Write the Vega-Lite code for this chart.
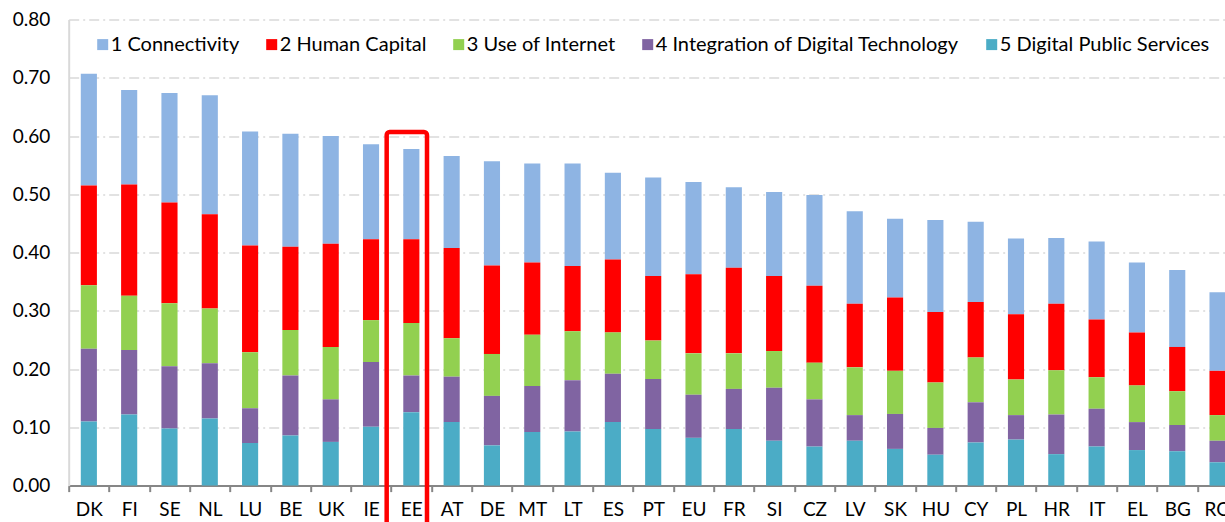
{
  "$schema": "https://vega.github.io/schema/vega-lite/v6.json",
  "width": 1156.3,
  "height": 466,
  "autosize": {"type": "none"},
  "padding": {"left": 68.7, "top": 19.6, "right": 0, "bottom": 36.4},
  "background": "white",
  "config": {"view": {"stroke": null}, "font": "Lato"},
  "layer": [
    {
      "data": {
        "values": [
          {"country": "DK", "1 Connectivity": 0.192, "2 Human Capital": 0.171, "3 Use of Internet": 0.109, "4 Integration of Digital Technology": 0.125, "5 Digital Public Services": 0.110},
          {"country": "FI", "1 Connectivity": 0.162, "2 Human Capital": 0.191, "3 Use of Internet": 0.093, "4 Integration of Digital Technology": 0.111, "5 Digital Public Services": 0.122},
          {"country": "SE", "1 Connectivity": 0.188, "2 Human Capital": 0.173, "3 Use of Internet": 0.108, "4 Integration of Digital Technology": 0.107, "5 Digital Public Services": 0.098},
          {"country": "NL", "1 Connectivity": 0.204, "2 Human Capital": 0.162, "3 Use of Internet": 0.094, "4 Integration of Digital Technology": 0.095, "5 Digital Public Services": 0.115},
          {"country": "LU", "1 Connectivity": 0.196, "2 Human Capital": 0.183, "3 Use of Internet": 0.096, "4 Integration of Digital Technology": 0.060, "5 Digital Public Services": 0.073},
          {"country": "BE", "1 Connectivity": 0.194, "2 Human Capital": 0.143, "3 Use of Internet": 0.078, "4 Integration of Digital Technology": 0.103, "5 Digital Public Services": 0.086},
          {"country": "UK", "1 Connectivity": 0.185, "2 Human Capital": 0.177, "3 Use of Internet": 0.090, "4 Integration of Digital Technology": 0.073, "5 Digital Public Services": 0.075},
          {"country": "IE", "1 Connectivity": 0.163, "2 Human Capital": 0.139, "3 Use of Internet": 0.072, "4 Integration of Digital Technology": 0.111, "5 Digital Public Services": 0.101},
          {"country": "EE", "1 Connectivity": 0.155, "2 Human Capital": 0.144, "3 Use of Internet": 0.090, "4 Integration of Digital Technology": 0.063, "5 Digital Public Services": 0.126},
          {"country": "AT", "1 Connectivity": 0.158, "2 Human Capital": 0.155, "3 Use of Internet": 0.066, "4 Integration of Digital Technology": 0.078, "5 Digital Public Services": 0.109},
          {"country": "DE", "1 Connectivity": 0.179, "2 Human Capital": 0.152, "3 Use of Internet": 0.072, "4 Integration of Digital Technology": 0.085, "5 Digital Public Services": 0.069},
          {"country": "MT", "1 Connectivity": 0.170, "2 Human Capital": 0.124, "3 Use of Internet": 0.088, "4 Integration of Digital Technology": 0.079, "5 Digital Public Services": 0.092},
          {"country": "LT", "1 Connectivity": 0.176, "2 Human Capital": 0.112, "3 Use of Internet": 0.084, "4 Integration of Digital Technology": 0.088, "5 Digital Public Services": 0.093},
          {"country": "ES", "1 Connectivity": 0.149, "2 Human Capital": 0.125, "3 Use of Internet": 0.071, "4 Integration of Digital Technology": 0.083, "5 Digital Public Services": 0.109},
          {"country": "PT", "1 Connectivity": 0.169, "2 Human Capital": 0.111, "3 Use of Internet": 0.066, "4 Integration of Digital Technology": 0.086, "5 Digital Public Services": 0.097},
          {"country": "EU", "1 Connectivity": 0.158, "2 Human Capital": 0.136, "3 Use of Internet": 0.071, "4 Integration of Digital Technology": 0.074, "5 Digital Public Services": 0.082},
          {"country": "FR", "1 Connectivity": 0.138, "2 Human Capital": 0.147, "3 Use of Internet": 0.061, "4 Integration of Digital Technology": 0.069, "5 Digital Public Services": 0.097},
          {"country": "SI", "1 Connectivity": 0.144, "2 Human Capital": 0.129, "3 Use of Internet": 0.063, "4 Integration of Digital Technology": 0.091, "5 Digital Public Services": 0.077},
          {"country": "CZ", "1 Connectivity": 0.156, "2 Human Capital": 0.132, "3 Use of Internet": 0.063, "4 Integration of Digital Technology": 0.081, "5 Digital Public Services": 0.067},
          {"country": "LV", "1 Connectivity": 0.159, "2 Human Capital": 0.109, "3 Use of Internet": 0.082, "4 Integration of Digital Technology": 0.044, "5 Digital Public Services": 0.077},
          {"country": "SK", "1 Connectivity": 0.135, "2 Human Capital": 0.126, "3 Use of Internet": 0.074, "4 Integration of Digital Technology": 0.060, "5 Digital Public Services": 0.063},
          {"country": "HU", "1 Connectivity": 0.158, "2 Human Capital": 0.121, "3 Use of Internet": 0.078, "4 Integration of Digital Technology": 0.046, "5 Digital Public Services": 0.053},
          {"country": "CY", "1 Connectivity": 0.138, "2 Human Capital": 0.095, "3 Use of Internet": 0.077, "4 Integration of Digital Technology": 0.069, "5 Digital Public Services": 0.074},
          {"country": "PL", "1 Connectivity": 0.130, "2 Human Capital": 0.112, "3 Use of Internet": 0.061, "4 Integration of Digital Technology": 0.042, "5 Digital Public Services": 0.079},
          {"country": "HR", "1 Connectivity": 0.113, "2 Human Capital": 0.114, "3 Use of Internet": 0.076, "4 Integration of Digital Technology": 0.068, "5 Digital Public Services": 0.054},
          {"country": "IT", "1 Connectivity": 0.134, "2 Human Capital": 0.099, "3 Use of Internet": 0.054, "4 Integration of Digital Technology": 0.065, "5 Digital Public Services": 0.067},
          {"country": "EL", "1 Connectivity": 0.120, "2 Human Capital": 0.091, "3 Use of Internet": 0.063, "4 Integration of Digital Technology": 0.048, "5 Digital Public Services": 0.061},
          {"country": "BG", "1 Connectivity": 0.132, "2 Human Capital": 0.076, "3 Use of Internet": 0.058, "4 Integration of Digital Technology": 0.045, "5 Digital Public Services": 0.059},
          {"country": "RO", "1 Connectivity": 0.135, "2 Human Capital": 0.076, "3 Use of Internet": 0.044, "4 Integration of Digital Technology": 0.037, "5 Digital Public Services": 0.040}
        ]
      },
      "transform": [
        {"fold": ["1 Connectivity", "2 Human Capital", "3 Use of Internet", "4 Integration of Digital Technology", "5 Digital Public Services"], "as": ["component", "value"]}
      ],
      "mark": {"type": "bar", "width": {"band": 0.4}},
      "encoding": {
        "x": {
          "field": "country", "type": "nominal", "sort": null,
          "scale": {
            "domain": ["DK","FI","SE","NL","LU","BE","UK","IE","EE","AT","DE","MT","LT","ES","PT","EU","FR","SI","CZ","LV","SK","HU","CY","PL","HR","IT","EL","BG","RO"],
            "range": [0, 1169], "paddingInner": 0, "paddingOuter": 0
          },
          "axis": {
            "title": null, "labelAngle": 0, "labelFontSize": 19, "labelColor": "#000000", "labelFont": "Lato",
            "labelOverlap": false, "tickBand": "extent", "tickSize": 6, "tickColor": "#868686", "tickWidth": 2,
            "domainColor": "#868686", "domainWidth": 2, "labelPadding": 9, "grid": false
          }
        },
        "y": {
          "field": "value", "type": "quantitative", "stack": "zero",
          "scale": {"domain": [0, 0.8], "nice": false, "zero": true},
          "axis": {
            "title": null, "values": [0, 0.1, 0.2, 0.3, 0.4, 0.5, 0.6, 0.7, 0.8], "format": ".2f",
            "labelFontSize": 19, "labelColor": "#000000", "labelFont": "Lato", "ticks": false, "tickSize": 0, "labelPadding": 19,
            "domainColor": "#d9d9d9", "domainWidth": 2,
            "grid": true, "gridColor": "#d9d9d9", "gridDash": [10, 4, 2, 4], "gridWidth": 1.5
          }
        },
        "color": {
          "field": "component", "type": "nominal",
          "scale": {
            "domain": ["1 Connectivity", "2 Human Capital", "3 Use of Internet", "4 Integration of Digital Technology", "5 Digital Public Services"],
            "range": ["#8EB4E3", "#FF0000", "#92D050", "#8064A2", "#4BACC6"]
          },
          "legend": {
            "title": null, "orient": "none", "legendX": 24, "legendY": 15, "direction": "horizontal",
            "symbolType": "square", "symbolSize": 121, "symbolStrokeWidth": 0, "labelFontSize": 20, "labelFont": "Lato",
            "labelColor": "#000000", "labelOffset": -2, "columnPadding": 22, "labelLimit": 500
          }
        },
        "order": {"field": "component", "sort": "descending"}
      }
    },
    {
      "data": {"values": [{"country": "EE", "top": 0.607, "bottom": -0.08}]},
      "mark": {"type": "rect", "fill": "transparent", "stroke": "#FF0000", "strokeWidth": 4.5, "cornerRadius": 3, "xOffset": -4.5},
      "encoding": {
        "x": {"field": "country", "type": "nominal"},
        "y": {"field": "top", "type": "quantitative"},
        "y2": {"field": "bottom"}
      }
    }
  ]
}
